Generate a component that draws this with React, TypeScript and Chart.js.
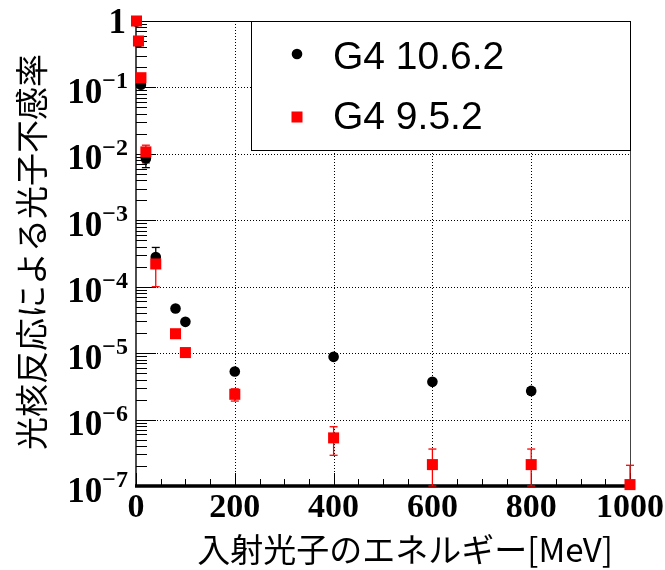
import React, { useEffect, useRef } from 'react';
import { Chart, registerables } from 'chart.js';

Chart.register(...registerables);

// ---- data ----
const energies = [1, 5, 10, 20, 40, 80, 100, 200, 400, 600, 800, 1000];

const g4v1062Label = 'G4 10.6.2';
const g4v1062 = [0.98, 0.48, 0.11, 0.0085, 2.8e-4, 4.7e-5, 2.96e-5, 5.3e-6, 8.8e-6, 3.7e-6, 2.7e-6, null];
const g4v1062Low = [null, null, null, 0.0062, 2.3e-4, null, null, null, null, null, 2.4e-6, null];
const g4v1062High = [null, null, null, 0.011, 3.9e-4, null, null, null, null, null, 3.0e-6, null];

const g4v952Label = 'G4 9.5.2';
const g4v952 = [1.0, 0.5, 0.14, 0.0107, 2.2e-4, 1.96e-5, 1.02e-5, 2.4e-6, 5.3e-7, 2.1e-7, 2.1e-7, 1.05e-7];
const g4v952Low = [null, null, 0.125, 0.0073, 1.0e-4, null, null, 1.9e-6, 2.9e-7, 1.0e-7, 1.0e-7, null];
const g4v952High = [null, null, 0.16, 0.0135, 3.0e-4, null, null, 2.9e-6, 7.8e-7, 3.6e-7, 3.6e-7, 2.05e-7];

const xTickValues = [0, 200, 400, 600, 800, 1000];
const xTickLabels = ['0', '200', '400', '600', '800', '1000'];
const yExponents = [0, -1, -2, -3, -4, -5, -6, -7];

const xTitle = '入射光子のエネルギー[MeV]';
const yTitle = '光核反応による光子不感率';

const SERIF = '"Liberation Serif", "Times New Roman", serif';
const SANS = '"Liberation Sans", Arial, sans-serif';
const CJK = '"Noto Sans CJK JP", "Noto Sans", sans-serif';

function line(ctx: CanvasRenderingContext2D, x1: number, y1: number, x2: number, y2: number) {
  ctx.beginPath();
  ctx.moveTo(x1, y1);
  ctx.lineTo(x2, y2);
  ctx.stroke();
}

const rootStyle = {
  id: 'rootStyle',
  beforeDatasetsDraw(chart: any) {
    const { ctx, chartArea: a, scales } = chart;
    const x = scales.x;
    const y = scales.y;
    ctx.save();
    // dotted grid
    ctx.strokeStyle = '#000';
    ctx.lineWidth = 1;
    ctx.setLineDash([1, 2]);
    for (const v of xTickValues) {
      if (v <= 0 || v >= 1000) continue;
      const px = Math.round(x.getPixelForValue(v)) + 0.5;
      line(ctx, px, a.top, px, a.bottom);
    }
    for (const e of yExponents) {
      if (e === 0 || e === -7) continue;
      const py = Math.round(y.getPixelForValue(Math.pow(10, e))) + 0.5;
      line(ctx, a.left, py, a.right, py);
    }
    ctx.setLineDash([]);

    // frame top / right
    ctx.strokeStyle = '#000';
    ctx.lineWidth = 1;
    line(ctx, a.left, Math.round(a.top) + 0.5, a.right, Math.round(a.top) + 0.5);
    ctx.strokeStyle = '#444';
    line(ctx, Math.round(a.right) + 0.5, a.top, Math.round(a.right) + 0.5, a.bottom);

    // x ticks
    ctx.strokeStyle = '#000';
    ctx.lineWidth = 1;
    for (let v = 0; v <= 1000; v += 50) {
      const px = Math.round(x.getPixelForValue(v)) + 0.5;
      const len = v % 200 === 0 ? 13 : 7;
      line(ctx, px, a.bottom, px, a.bottom - len);
    }
    // y ticks
    for (let e = 0; e >= -7; e--) {
      const base = Math.pow(10, e);
      const py = Math.round(y.getPixelForValue(base)) + 0.5;
      line(ctx, a.left, py, a.left + 20, py);
      if (e > -7) {
        for (let m = 2; m <= 9; m++) {
          const pm = Math.round(y.getPixelForValue(base * m / 10)) + 0.5;
          line(ctx, a.left, pm, a.left + 11, pm);
        }
      }
    }
    // axes
    ctx.strokeStyle = '#000';
    ctx.lineWidth = 1.4;
    line(ctx, a.left, a.top, a.left, a.bottom);
    ctx.lineWidth = 3.4;
    line(ctx, a.left - 1, a.bottom, a.right, a.bottom);

    // error bars
    const drawErr = (vals: any[], lo: any[], hi: any[], color: string) => {
      ctx.strokeStyle = color;
      ctx.lineWidth = 1.3;
      energies.forEach((E, i) => {
        if (vals[i] == null) return;
        const px = x.getPixelForValue(E);
        const pv = y.getPixelForValue(vals[i]);
        if (lo[i] != null) {
          const pl = y.getPixelForValue(lo[i]);
          line(ctx, px, pv, px, pl);
          line(ctx, px - 4, pl, px + 4, pl);
        }
        if (hi[i] != null) {
          const ph = y.getPixelForValue(hi[i]);
          line(ctx, px, pv, px, ph);
          line(ctx, px - 4, ph, px + 4, ph);
        }
      });
    };
    drawErr(g4v1062, g4v1062Low, g4v1062High, '#000');
    drawErr(g4v952, g4v952Low, g4v952High, '#ff0000');
    ctx.restore();
  },
  afterDraw(chart: any) {
    const { ctx, chartArea: a, scales } = chart;
    const x = scales.x;
    const y = scales.y;
    ctx.save();
    ctx.fillStyle = '#000';

    // x tick labels
    ctx.font = `bold 34px ${SERIF}`;
    ctx.textAlign = 'center';
    ctx.textBaseline = 'alphabetic';
    xTickValues.forEach((v, i) => {
      ctx.fillText(xTickLabels[i], x.getPixelForValue(v), 517);
    });

    // y tick labels
    yExponents.forEach((e) => {
      const py = y.getPixelForValue(Math.pow(10, e));
      if (e === 0) {
        ctx.font = `bold 35px ${SERIF}`;
        ctx.textAlign = 'right';
        ctx.textBaseline = 'alphabetic';
        ctx.fillText('1', 126, py + 12);
        return;
      }
      const sup = '\u2212' + String(-e);
      ctx.font = `bold 24px ${SERIF}`;
      const ws = ctx.measureText(sup).width;
      ctx.font = `bold 35px ${SERIF}`;
      const wb = ctx.measureText('10').width;
      const right = 128;
      ctx.textAlign = 'left';
      ctx.textBaseline = 'alphabetic';
      ctx.fillText('10', right - ws - wb, py + 15.5);
      ctx.font = `bold 24px ${SERIF}`;
      ctx.fillText(sup, right - ws, py + 1);
    });

    // axis titles
    ctx.font = `33px ${CJK}`;
    ctx.textAlign = 'right';
    ctx.textBaseline = 'middle';
    ctx.fillText(xTitle, 613, 549);
    ctx.save();
    ctx.translate(31, 54);
    ctx.rotate(-Math.PI / 2);
    ctx.textAlign = 'right';
    ctx.textBaseline = 'middle';
    ctx.fillText(yTitle, 0, 0);
    ctx.restore();

    // legend box
    const lx = 251, ly = Math.round(a.top) + 0.5, lw = Math.round(a.right) - 251, lh = 129;
    ctx.fillStyle = '#fff';
    ctx.fillRect(lx, ly, lw, lh);
    ctx.strokeStyle = '#000';
    ctx.lineWidth = 1;
    ctx.strokeRect(lx + 0.5, ly, lw, lh);
    ctx.fillStyle = '#000';
    ctx.beginPath();
    ctx.arc(297, 54, 5.3, 0, Math.PI * 2);
    ctx.fill();
    ctx.fillStyle = '#ff0000';
    ctx.fillRect(291.5, 111.5, 11, 11);
    ctx.fillStyle = '#000';
    ctx.font = `39px ${SANS}`;
    ctx.textAlign = 'left';
    ctx.textBaseline = 'alphabetic';
    ctx.fillText(g4v1062Label, 333, 69);
    ctx.fillText(g4v952Label, 333, 129);
    ctx.restore();
  },
};

export default function App() {
  const ref = useRef<HTMLCanvasElement | null>(null);
  useEffect(() => {
    if (!ref.current) return;
    const chart = new Chart(ref.current, {
      type: 'scatter',
      data: {
        datasets: [
          {
            label: g4v1062Label,
            data: energies.map((E, i) => ({ x: E, y: g4v1062[i] })) as any,
            pointStyle: 'circle',
            pointRadius: 5.3,
            backgroundColor: '#000',
            borderColor: '#000',
            borderWidth: 0,
            order: 1,
            clip: false as any,
          },
          {
            label: g4v952Label,
            data: energies.map((E, i) => ({ x: E, y: g4v952[i] })) as any,
            pointStyle: 'rect',
            pointRadius: 7.8,
            backgroundColor: '#ff0000',
            borderColor: '#ff0000',
            borderWidth: 0,
            order: 0,
            clip: false as any,
          },
        ],
      },
      options: {
        responsive: false,
        animation: false,
        devicePixelRatio: 1,
        layout: { padding: { left: 136, right: 35, top: 21, bottom: 84 } },
        plugins: { legend: { display: false }, tooltip: { enabled: false }, title: { display: false } },
        scales: {
          x: { type: 'linear', min: 0, max: 1000, display: false },
          y: { type: 'logarithmic', min: 1e-7, max: 1, display: false },
        },
      },
      plugins: [rootStyle],
    });
    return () => chart.destroy();
  }, []);
  return (
    <div style={{ position: 'fixed', left: 0, top: 0, width: 665, height: 570, background: '#fff' }}>
      <canvas ref={ref} width={665} height={570} style={{ display: 'block' }} />
    </div>
  );
}
